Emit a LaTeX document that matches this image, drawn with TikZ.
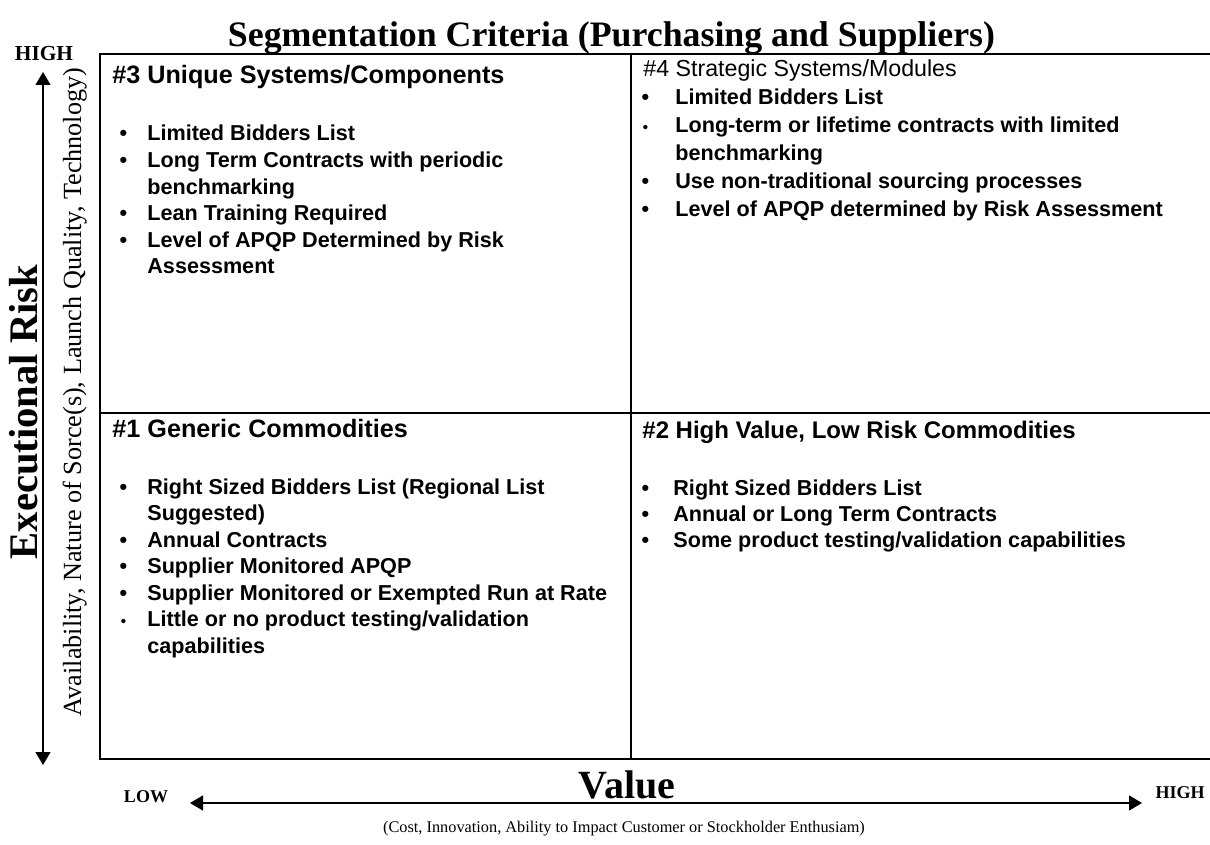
\documentclass[tikz,border=0pt]{standalone}
\usepackage{fontspec}
\setmainfont{Liberation Serif}
\setsansfont{Liberation Sans}
\usetikzlibrary{arrows.meta}

\newcommand{\smalldot}{\makebox[3.78pt][c]{\fontsize{7.5}{7.5}\selectfont •}}

\begin{document}
\begin{tikzpicture}[x=0.5pt, y=-0.5pt,
    axisarrow/.style={line width=0.65pt, {Triangle[length=6.5pt,width=7.5pt]}-{Triangle[length=6.5pt,width=7.5pt]}},
    quadline/.style={line width=1pt},
    quadhead/.style={anchor=base west, inner sep=0pt, font=\sffamily\bfseries\fontsize{12.6}{15}\selectfont},
    quadlist/.style={anchor=base west, inner sep=0pt, font=\sffamily\bfseries\fontsize{10.8}{13.3}\selectfont}]
    \useasboundingbox (0,0) rectangle (1210,845);

    % grid of the four segments
    \draw[quadline] (1210,54) -- (100,54) -- (100,759) -- (1210,759);
    \draw[quadline] (631,54) -- (631,759);
    \draw[quadline] (100,413) -- (1210,413);

    % axes
    \coordinate (ybot) at (43,765);
    \coordinate (ytop) at (43,72);
    \draw[axisarrow] (ybot) -- (ytop);
    \coordinate (xleft) at (190,803);
    \coordinate (xright) at (1142,803);
    \draw[axisarrow] (xleft) -- (xright);

    \node[anchor=base, inner sep=0pt, font=\bfseries\fontsize{17.9}{20}\selectfont] (title) at (611.5,47) {Segmentation Criteria (Purchasing and Suppliers)};
    \node[anchor=base, inner sep=0pt, font=\bfseries\fontsize{10.7}{12}\selectfont] (yhigh) at (44,61) {HIGH};
    \node[rotate=90, anchor=base, inner sep=0pt, font=\bfseries\fontsize{20.3}{24}\selectfont] (yname) at (37,412) {Executional Risk};
    \node[rotate=90, anchor=base, inner sep=0pt, font=\fontsize{13.1}{15}\selectfont] (ydesc) at (81,392) {Availability, Nature of Sorce(s), Launch Quality, Technology)};
    \node[anchor=base, inner sep=0pt, font=\bfseries\fontsize{9}{11}\selectfont] (xlow) at (146,802) {LOW};
    \node[anchor=base, inner sep=0pt, font=\bfseries\fontsize{20}{24}\selectfont] (xname) at (627,798) {Value};
    \node[anchor=base, inner sep=0pt, font=\bfseries\fontsize{9}{11}\selectfont] (xhigh) at (1180,798) {HIGH};
    \node[anchor=base, inner sep=0pt, font=\fontsize{8.15}{10}\selectfont] (xdesc) at (624,832) {(Cost, Innovation, Ability to Impact Customer or Stockholder Enthusiam)};

    % #3 top left
    \node[quadhead] (q3head) at (112,84) {\#3 Unique Systems/Components};
    \node[quadlist] (q3list) at (119.2,141) {\begin{tabular}[t]{@{}p{13.9pt}@{}l@{}}
        • & Limited Bidders List\\
        • & Long Term Contracts with periodic\\
          & benchmarking\\
        • & Lean Training Required\\
        • & Level of APQP Determined by Risk\\
          & Assessment
    \end{tabular}};

    % #4 top right
    \node[anchor=base west, inner sep=0pt, font=\sffamily\fontsize{11.6}{14}\selectfont] (q4head) at (643,77) {\#4 Strategic Systems/Modules};
    \node[quadlist, font=\sffamily\bfseries\fontsize{10.8}{13.9}\selectfont] (q4list) at (641.2,105) {\begin{tabular}[t]{@{}p{16.9pt}@{}l@{}}
        • & Limited Bidders List\\
        \smalldot & Long-term or lifetime contracts with limited\\
          & benchmarking\\
        • & Use non-traditional sourcing processes\\
        • & Level of APQP determined by Risk Assessment
    \end{tabular}};

    % #1 bottom left
    \node[quadhead] (q1head) at (112,437) {\#1 Generic Commodities};
    \node[quadlist, font=\sffamily\bfseries\fontsize{10.8}{13.25}\selectfont] (q1list) at (119.2,494) {\begin{tabular}[t]{@{}p{13.9pt}@{}l@{}}
        • & Right Sized Bidders List (Regional List\\
          & Suggested)\\
        • & Annual Contracts\\
        • & Supplier Monitored APQP\\
        • & Supplier Monitored or Exempted Run at Rate\\
        \smalldot & Little or no product testing/validation\\
          & capabilities
    \end{tabular}};

    % #2 bottom right
    \node[quadhead, font=\sffamily\bfseries\fontsize{12}{14}\selectfont] (q2head) at (642,438) {\#2 High Value, Low Risk Commodities};
    \node[quadlist, font=\sffamily\bfseries\fontsize{10.8}{13}\selectfont] (q2list) at (641.2,495) {\begin{tabular}[t]{@{}p{15.9pt}@{}l@{}}
        • & Right Sized Bidders List\\
        • & Annual or Long Term Contracts\\
        • & Some product testing/validation capabilities
    \end{tabular}};
\end{tikzpicture}
\end{document}
